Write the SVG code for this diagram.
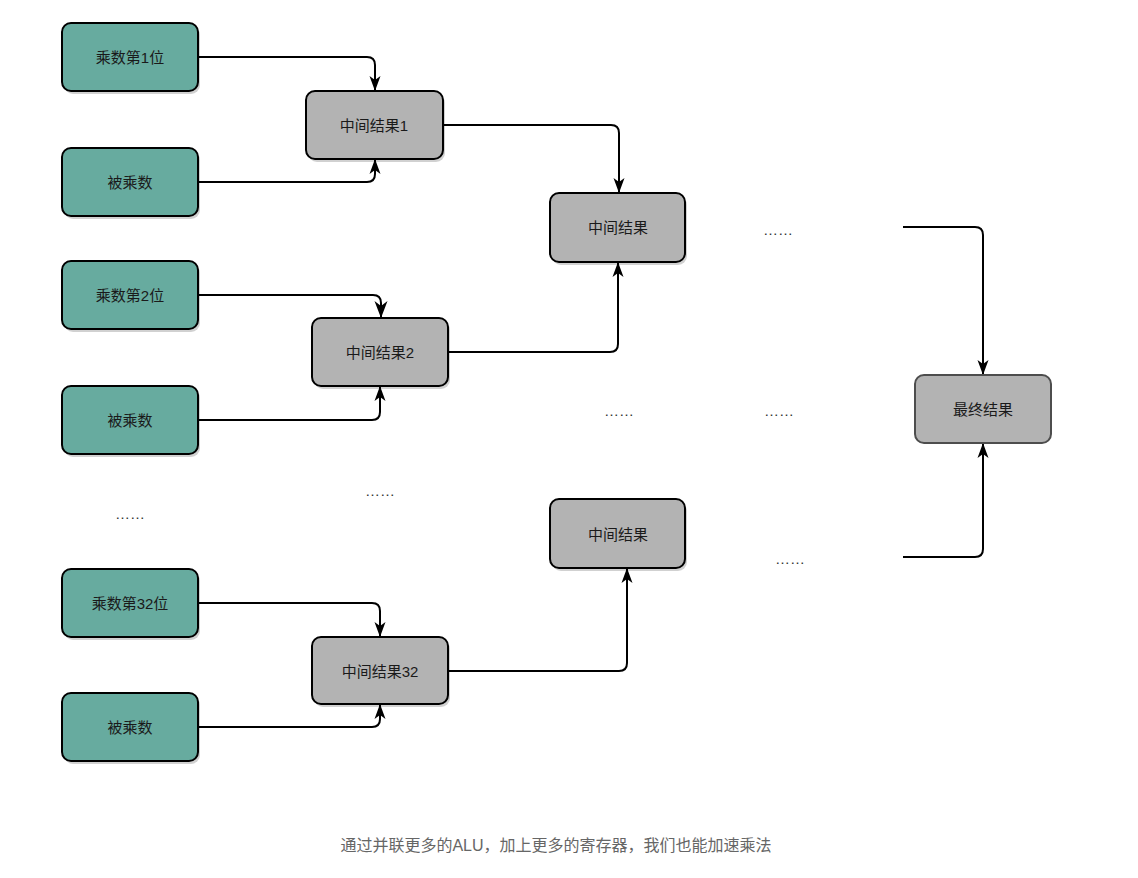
<svg xmlns="http://www.w3.org/2000/svg" width="1138" height="878" viewBox="0 0 1138 878">
<style>
.g{fill:#67AB9F;stroke:#000;stroke-width:2}
.m{fill:#B3B3B3;stroke:#000;stroke-width:2}
.f{fill:#B3B3B3;stroke:#4D4D4D;stroke-width:2}
.sh{fill:#000;opacity:0.18}
.t{font-family:"Liberation Sans","Noto Sans CJK SC",sans-serif;font-size:15px;fill:#1a1a1a;text-anchor:middle;dominant-baseline:central}
.d{font-family:"Liberation Sans","Noto Sans CJK SC",sans-serif;font-size:15px;fill:#333;text-anchor:middle}
.c{fill:none;stroke:#000;stroke-width:2}
.cap{font-family:"Liberation Sans","Noto Sans CJK SC",sans-serif;font-size:16px;fill:#666;text-anchor:middle}
</style>
<defs>
<marker id="a" markerUnits="userSpaceOnUse" markerWidth="16" markerHeight="16" viewBox="0 0 16 16" refX="15" refY="8" orient="auto">
<path d="M0,2.5 L15,8 L0,13.5 L4,8 Z" fill="#000"/>
</marker>
<marker id="b" markerUnits="userSpaceOnUse" markerWidth="18" markerHeight="18" viewBox="0 0 18 18" refX="17" refY="9" orient="auto">
<path d="M0,2.5 L17,9 L0,15.5 L5,9 Z" fill="#000"/>
</marker>
</defs>
<rect width="1138" height="878" fill="#fff"/>
<g id="connectors">
<path class="c" d="M198,57 H367 Q375,57 375,65 V91" marker-end="url(#a)"/>
<path class="c" d="M198,182 H367 Q375,182 375,174 V159" marker-end="url(#a)"/>
<path class="c" d="M443,125 H611 Q619,125 619,133 V193" marker-end="url(#a)"/>
<path class="c" d="M198,295 H373 Q381,295 381,303 V318" marker-end="url(#b)" stroke-width="3"/>
<path class="c" d="M198,420 H372 Q380,420 380,412 V386" marker-end="url(#a)"/>
<path class="c" d="M448,352 H610 Q618,352 618,344 V262" marker-end="url(#a)"/>
<path class="c" d="M198,603 H372 Q380,603 380,611 V637" marker-end="url(#a)"/>
<path class="c" d="M198,727 H372 Q380,727 380,719 V704" marker-end="url(#a)"/>
<path class="c" d="M448,671 H619 Q627,671 627,663 V568" marker-end="url(#a)"/>
<path class="c" d="M903,227 H975 Q983,227 983,235 V375" marker-end="url(#a)"/>
<path class="c" d="M903,557 H975 Q983,557 983,549 V443" marker-end="url(#a)"/>
</g>
<g id="n1"><rect class="sh" x="64" y="26" width="136" height="68" rx="9"/><rect class="g" x="62" y="23" width="136" height="68" rx="9"/><text class="t" x="130" y="57">乘数第1位</text></g>
<g id="n2"><rect class="sh" x="64" y="151" width="136" height="68" rx="9"/><rect class="g" x="62" y="148" width="136" height="68" rx="9"/><text class="t" x="130" y="182">被乘数</text></g>
<g id="n3"><rect class="sh" x="64" y="264" width="136" height="68" rx="9"/><rect class="g" x="62" y="261" width="136" height="68" rx="9"/><text class="t" x="130" y="295">乘数第2位</text></g>
<g id="n4"><rect class="sh" x="64" y="389" width="136" height="68" rx="9"/><rect class="g" x="62" y="386" width="136" height="68" rx="9"/><text class="t" x="130" y="420">被乘数</text></g>
<g id="n5"><rect class="sh" x="64" y="572" width="136" height="68" rx="9"/><rect class="g" x="62" y="569" width="136" height="68" rx="9"/><text class="t" x="130" y="603">乘数第32位</text></g>
<g id="n6"><rect class="sh" x="64" y="696" width="136" height="68" rx="9"/><rect class="g" x="62" y="693" width="136" height="68" rx="9"/><text class="t" x="130" y="727">被乘数</text></g>
<g id="m1"><rect class="sh" x="308" y="94" width="137" height="68" rx="9"/><rect class="m" x="306" y="91" width="137" height="68" rx="9"/><text class="t" x="374" y="125">中间结果1</text></g>
<g id="m2"><rect class="sh" x="314" y="321" width="136" height="68" rx="9"/><rect class="m" x="312" y="318" width="136" height="68" rx="9"/><text class="t" x="380" y="352">中间结果2</text></g>
<g id="m32"><rect class="sh" x="314" y="640" width="136" height="67" rx="9"/><rect class="m" x="312" y="637" width="136" height="67" rx="9"/><text class="t" x="380" y="671">中间结果32</text></g>
<g id="r1"><rect class="sh" x="552" y="196" width="135" height="69" rx="9"/><rect class="m" x="550" y="193" width="135" height="69" rx="9"/><text class="t" x="618" y="227">中间结果</text></g>
<g id="r2"><rect class="sh" x="552" y="502" width="135" height="69" rx="9"/><rect class="m" x="550" y="499" width="135" height="69" rx="9"/><text class="t" x="618" y="534">中间结果</text></g>
<g id="final"><rect class="f" x="915" y="375" width="136" height="68" rx="9"/><text class="t" x="983" y="409">最终结果</text></g>
<g id="dots">
<text class="d" x="778" y="235">……</text>
<text class="d" x="619" y="416">……</text>
<text class="d" x="779" y="416">……</text>
<text class="d" x="380" y="496">……</text>
<text class="d" x="130" y="519">……</text>
<text class="d" x="790" y="564">……</text>
</g>
<text class="cap" x="556" y="851">通过并联更多的ALU，加上更多的寄存器，我们也能加速乘法</text>
</svg>
